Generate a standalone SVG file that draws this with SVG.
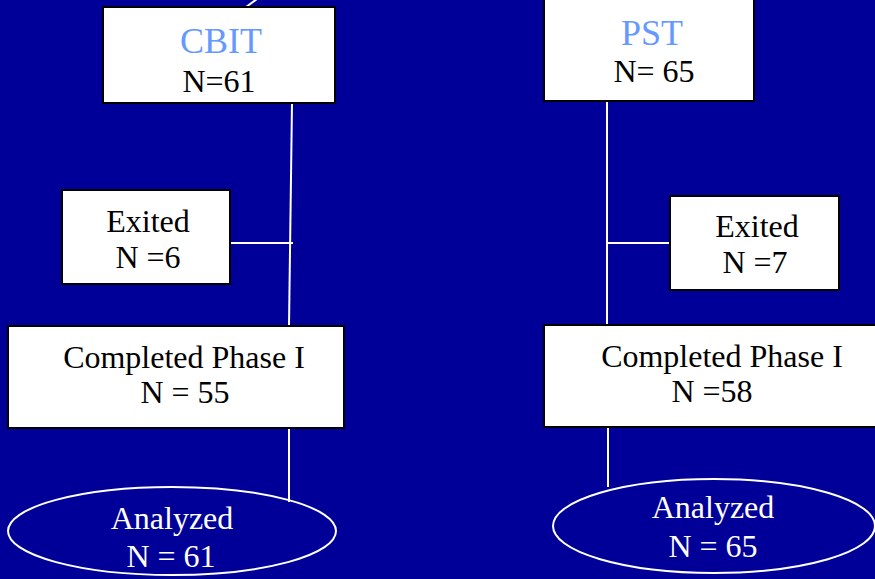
<svg xmlns="http://www.w3.org/2000/svg" width="875" height="579" viewBox="0 0 875 579">
<style>
.box{fill:#ffffff;stroke:#000000;stroke-width:2}
.oval{fill:none;stroke:#ffffff;stroke-width:2}
.ln{stroke:#ffffff;stroke-width:2;fill:none}
text{font-family:"Liberation Serif","Times New Roman",serif;font-size:32px;fill:#000000;text-anchor:middle}
.title{font-size:36px;fill:#6699ff}
.wt{fill:#ffffff}
</style>
<rect x="0" y="0" width="875" height="579" fill="#000099"/>
<g id="connectors">
<line class="ln" x1="246" y1="7" x2="257" y2="-1"/>
<line class="ln" x1="292" y1="103" x2="289" y2="326"/>
<line class="ln" x1="230" y1="243" x2="293" y2="243"/>
<line class="ln" x1="289" y1="428" x2="289" y2="502"/>
<line class="ln" x1="607" y1="101" x2="607" y2="325"/>
<line class="ln" x1="607" y1="243" x2="670" y2="243"/>
<line class="ln" x1="608" y1="427" x2="608" y2="487"/>
</g>
<g id="cbit">
<rect class="box" x="103" y="7" width="232" height="96"/>
<text class="title" x="221" y="53">CBIT</text>
<text x="219" y="92">N=61</text>
</g>
<g id="pst">
<rect class="box" x="544" y="-2" width="210" height="103"/>
<text class="title" x="652" y="45">PST</text>
<text x="654" y="82">N= 65</text>
</g>
<g id="exited-left">
<rect class="box" x="62" y="190" width="168" height="94"/>
<text x="148" y="232">Exited</text>
<text x="148" y="268">N =6</text>
</g>
<g id="exited-right">
<rect class="box" x="670" y="196" width="169" height="94"/>
<text x="757" y="237">Exited</text>
<text x="755" y="273">N =7</text>
</g>
<g id="completed-left">
<rect class="box" x="8" y="326" width="336" height="102"/>
<text x="184" y="368">Completed Phase I</text>
<text x="185" y="403">N = 55</text>
</g>
<g id="completed-right">
<rect class="box" x="544" y="325" width="334" height="102"/>
<text x="722" y="367">Completed Phase I</text>
<text x="712" y="402">N =58</text>
</g>
<g id="analyzed-left">
<ellipse class="oval" cx="172" cy="531" rx="164" ry="44"/>
<text class="wt" x="172" y="529">Analyzed</text>
<text class="wt" x="171" y="567">N = 61</text>
</g>
<g id="analyzed-right">
<ellipse class="oval" cx="714" cy="526" rx="161" ry="47"/>
<text class="wt" x="713" y="518">Analyzed</text>
<text class="wt" x="713" y="557">N = 65</text>
</g>
</svg>
